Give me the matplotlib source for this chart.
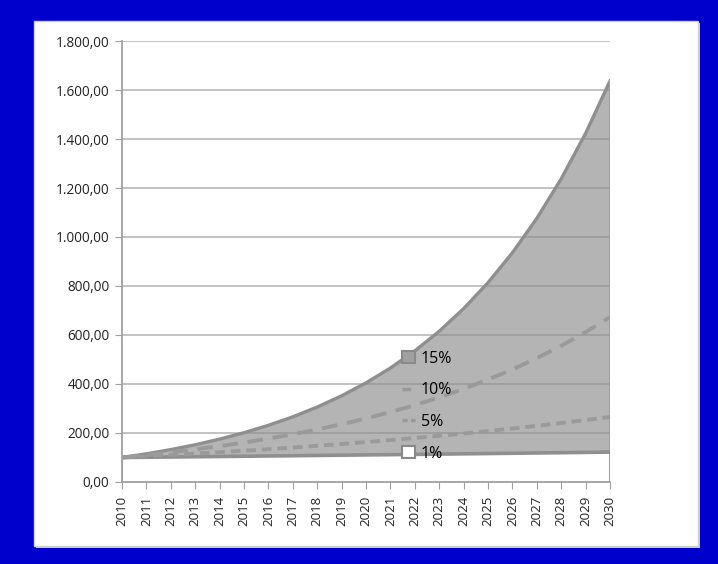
import matplotlib
matplotlib.use("Agg")
import matplotlib.pyplot as plt
from matplotlib.patches import Rectangle, Patch
from matplotlib.lines import Line2D
from matplotlib.ticker import FuncFormatter

plt.rcParams['font.family'] = ['Open Sans', 'DejaVu Sans']

years = list(range(2010, 2031))
g15 = [100, 115, 132.25, 152.09, 174.9, 201.14, 231.31, 266.0, 305.9, 351.79, 404.56,
       465.24, 535.03, 615.28, 707.57, 813.71, 935.76, 1076.13, 1237.55, 1423.18, 1636.65]
g10 = [100, 110, 121, 133.1, 146.41, 161.05, 177.16, 194.87, 214.36, 235.79, 259.37,
       285.31, 313.84, 345.23, 379.75, 417.72, 459.5, 505.45, 555.99, 611.59, 672.75]
g5 = [100, 105, 110.25, 115.76, 121.55, 127.63, 134.01, 140.71, 147.75, 155.13, 162.89,
      171.03, 179.59, 188.56, 197.99, 207.89, 218.29, 229.2, 240.66, 252.7, 265.33]
g1 = [100, 101, 102.01, 103.03, 104.06, 105.1, 106.15, 107.21, 108.29, 109.37, 110.46,
      111.57, 112.68, 113.81, 114.95, 116.1, 117.26, 118.43, 119.62, 120.81, 122.02]
labels = ['15%', '10%', '5%', '1%']

fig = plt.figure(figsize=(7.18, 5.64), dpi=100, facecolor='#0000CC')

# white panel with a light shadow
fig.patches.append(Rectangle((0.0495, 0.028), 0.9248, 0.931, transform=fig.transFigure,
                             facecolor='#c8c8c8', edgecolor='none', zorder=-2))
fig.patches.append(Rectangle((0.0474, 0.0319), 0.9248, 0.931, transform=fig.transFigure,
                             facecolor='white', edgecolor='#d0d0d0', lw=1, zorder=-1))

ax = fig.add_axes([0.170, 0.1454, 0.6796, 0.7819])
ax.set_zorder(1)
ax.set_facecolor('none')

for v in range(200, 2000, 200):
    ax.axhline(v, color='#bdbdbd', lw=1.3, zorder=1)

ax.fill_between(years, 0, g15, facecolor='#8c8c8c', alpha=0.65, edgecolor='none', zorder=2)
ax.plot(years, g15, color='#8f8f8f', lw=2.4, zorder=4)
ax.plot([2030, 2030], [0, g15[-1]], color='#a0a0a0', lw=1.5, zorder=4)
ax.fill_between(years, 0, g1, facecolor='white', edgecolor='none', zorder=3)
ax.plot(years, g1, color='#8f8f8f', lw=2.6, zorder=4)
ax.plot([2010, 2010], [0, g1[0]], color='#a0a0a0', lw=1.5, zorder=4)
ax.plot(years, g10, color='#9a9a9a', lw=2.8, ls=(0, (4, 2.5)), zorder=4)
ax.plot(years, g5, color='#9a9a9a', lw=2.8, ls=(0, (2.5, 1.5)), zorder=4)

ax.set_xlim(2010, 2030)
ax.set_ylim(0, 1800)
ax.set_xticks(years)
ax.set_xticklabels([str(y) for y in years], rotation=90, fontsize=9.5, color='#222222')
ax.set_yticks(range(0, 2000, 200))
ax.yaxis.set_major_formatter(FuncFormatter(
    lambda v, p: '{:,.2f}'.format(v).replace(',', 'X').replace('.', ',').replace('X', '.')))
ax.tick_params(axis='y', labelsize=9.8, labelcolor='#222222', length=5, color='#a0a0a0', pad=4)
ax.tick_params(axis='x', length=5, color='#a0a0a0', pad=5)
for s in ['top', 'right']:
    ax.spines[s].set_visible(False)
for s in ['left', 'bottom']:
    ax.spines[s].set_color('#a0a0a0')
    ax.spines[s].set_linewidth(1.3)
    ax.spines[s].set_zorder(5)

handles = [Patch(facecolor='#a0a0a0', edgecolor='#8a8a8a', lw=1.5),
           Line2D([], [], color='#999999', lw=2.5, ls=(0, (2.5, 1.5))),
           Line2D([], [], color='#999999', lw=2.5, ls=(0, (1.5, 1))),
           Patch(facecolor='white', edgecolor='#8a8a8a', lw=1.5)]
ax.legend(handles, labels, loc='upper left', bbox_to_anchor=(0.545, 0.33), frameon=False,
          fontsize=11.5, handlelength=0.8, handleheight=0.8, handletextpad=0.35,
          labelspacing=0.98)

fig.savefig('out.png', dpi=100, facecolor=fig.get_facecolor())
